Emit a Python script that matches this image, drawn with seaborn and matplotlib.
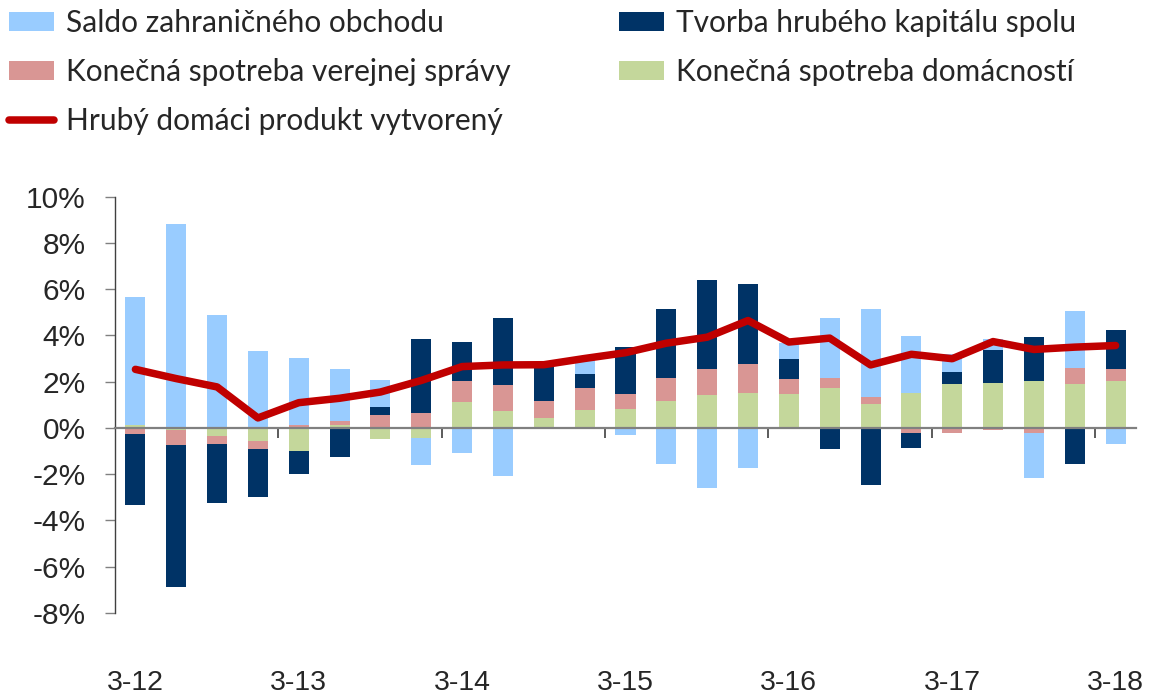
import numpy as np
import pandas as pd
import matplotlib
matplotlib.use("Agg")
import matplotlib.pyplot as plt
from matplotlib.patches import Patch
from matplotlib.lines import Line2D
from matplotlib.ticker import FixedLocator, FuncFormatter
import seaborn as sns

# ---------------- data ----------------
quarters = ["3-12", "6-12", "9-12", "12-12", "3-13", "6-13", "9-13", "12-13",
            "3-14", "6-14", "9-14", "12-14", "3-15", "6-15", "9-15", "12-15",
            "3-16", "6-16", "9-16", "12-16", "3-17", "6-17", "9-17", "12-17",
            "3-18"]

domacnosti = [0.11, -0.07, -0.36, -0.57, -1.02, 0.11, -0.50, -0.42,
              1.11, 0.72, 0.43, 0.76, 0.83, 1.16, 1.41, 1.49,
              1.45, 1.71, 1.02, 1.49, 1.90, 1.94, 2.04, 1.91, 2.01]
verejna = [-0.26, -0.65, -0.34, -0.35, 0.11, 0.19, 0.55, 0.65,
           0.93, 1.15, 0.75, 0.95, 0.64, 0.98, 1.12, 1.28,
           0.68, 0.46, 0.32, -0.23, -0.22, -0.07, -0.24, 0.66, 0.55]
kapital = [-3.07, -6.16, -2.56, -2.08, -0.96, -1.24, 0.35, 3.20,
           1.67, 2.90, 1.50, 0.60, 2.01, 3.00, 3.86, 3.44,
           0.84, -0.93, -2.46, -0.63, 0.51, 1.41, 1.90, -1.54, 1.69]
saldo = [5.54, 8.82, 4.90, 3.33, 2.89, 2.26, 1.18, -1.17,
         -1.09, -2.10, 0.00, 0.64, -0.29, -1.54, -2.60, -1.74,
         0.68, 2.60, 3.79, 2.46, 0.79, 0.47, -1.91, 2.50, -0.69]
hdp = [2.53, 2.13, 1.77, 0.43, 1.09, 1.28, 1.55, 2.05,
       2.65, 2.72, 2.73, 3.00, 3.25, 3.66, 3.92, 4.64,
       3.71, 3.88, 2.72, 3.18, 2.99, 3.73, 3.39, 3.49, 3.56]

series_names = ["Konečná spotreba domácností", "Konečná spotreba verejnej správy",
                "Tvorba hrubého kapitálu spolu", "Saldo zahraničného obchodu"]
series_values = [domacnosti, verejna, kapital, saldo]
series_colors = ["#C4D79B", "#D99694", "#003366", "#99CCFF"]
line_name = "Hrubý domáci produkt vytvorený"
line_color = "#C00000"

# ---------------- style ----------------
sns.set_style("white")
plt.rcParams["font.family"] = ["Liberation Sans", "DejaVu Sans"]

fig = plt.figure(figsize=(11.52, 6.99), dpi=100)
ax = fig.add_axes([115 / 1152, 1 - 613 / 699, (1136 - 115) / 1152, (613 - 196.5) / 699])

x = np.arange(len(quarters))
pos_base = np.zeros(len(quarters))
neg_base = np.zeros(len(quarters))
for name, vals, col in zip(series_names, series_values, series_colors):
    v = np.asarray(vals, dtype=float)
    bottom = np.where(v >= 0, pos_base, neg_base)
    ax.bar(x, v, width=0.49, bottom=bottom, color=col, edgecolor="none",
           linewidth=0, zorder=2)
    pos_base = pos_base + np.where(v > 0, v, 0)
    neg_base = neg_base + np.where(v < 0, v, 0)

df_line = pd.DataFrame({"x": x, "hdp": hdp})
sns.lineplot(data=df_line, x="x", y="hdp", ax=ax, color=line_color,
             linewidth=5.4, solid_capstyle="round", solid_joinstyle="round",
             zorder=4)

ax.set_xlim(-0.5, len(quarters) - 0.5)
ax.set_ylim(-8, 10)

# y axis
ax.yaxis.set_major_locator(FixedLocator(np.arange(-8, 10.1, 2)))
ax.yaxis.set_major_formatter(FuncFormatter(lambda v, p: f"{int(round(v))}%"))
ax.tick_params(axis="y", which="major", direction="out", length=7.2, width=1,
               color="#808080", labelsize=21.5, pad=14, left=True)
ax.spines["left"].set_color("#404040")
ax.spines["left"].set_linewidth(1.0)
ax.spines["top"].set_visible(False)
ax.spines["right"].set_visible(False)

# x axis: spine at zero with minor ticks between year groups, labels at bottom
ax.spines["bottom"].set_position(("data", 0))
ax.spines["bottom"].set_color("#808080")
ax.spines["bottom"].set_linewidth(1.6)
ax.spines["bottom"].set_zorder(3)
ax.set_xticks(x[::4])
ax.set_xticklabels([quarters[i] for i in range(0, len(quarters), 4)])
ax.set_xticks(np.arange(3.5, len(quarters) - 1, 4), minor=True)
ax.tick_params(axis="x", which="major", length=0, labelsize=20.5, pad=174, bottom=True)
ax.tick_params(axis="x", which="minor", direction="out", length=7.2, width=1.2,
               color="#404040", bottom=True)
ax.set_xlabel("")
ax.set_ylabel("")
ax.grid(False)

# legend (two columns placed separately)
leg_font = {"family": ["Lato", "DejaVu Sans"], "size": 21.5}
h_saldo = Patch(facecolor=series_colors[3], edgecolor="none")
h_ver = Patch(facecolor=series_colors[1], edgecolor="none")
h_kap = Patch(facecolor=series_colors[2], edgecolor="none")
h_dom = Patch(facecolor=series_colors[0], edgecolor="none")
h_line = Line2D([0], [0], color=line_color, linewidth=5.4, solid_capstyle="round")

common = dict(loc="upper left", frameon=False, prop=leg_font, borderaxespad=0,
              borderpad=0, handlelength=1.5, handleheight=0.6, handletextpad=0.42,
              labelspacing=0.7)
leg1 = fig.legend([h_saldo, h_ver, h_line],
                  [series_names[3], series_names[1], line_name],
                  bbox_to_anchor=(9 / 1152, 1 - 9 / 699), **common)
leg2 = fig.legend([h_kap, h_dom],
                  [series_names[2], series_names[0]],
                  bbox_to_anchor=(619 / 1152, 1 - 9 / 699), **common)

fig.savefig("out.png", dpi=100)
